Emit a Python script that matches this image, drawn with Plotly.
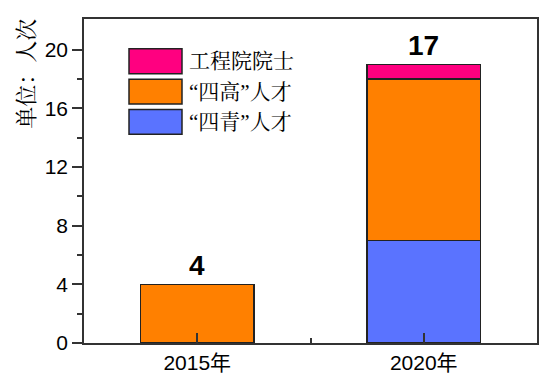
import plotly.graph_objects as go

categories = ["2015年", "2020年"]
qingnian = [0, 7]      # “四青”人才
gaoceng = [4, 11]      # “四高”人才
yuanshi = [0, 1]       # 工程院院士
totals = ["4", "17"]
series_names = ["工程院院士", "“四高”人才", "“四青”人才"]
colors = ["#FF0080", "#FF8000", "#5A73FF"]

xpos = list(range(len(categories)))
line = dict(color="#222222", width=1.5)

# page body has an 8px margin: figure spans 8..557 x 8..383
W, H = 549, 375
L, T, PW, PH = 76, 9, 453, 326
R, B = W - L - PW, H - T - PH

def px(x):  # page x -> paper
    return (x - 8 - L) / PW

def py(y):  # page y -> paper
    return 1 - (y - 8 - T) / PH

fig = go.Figure()
fig.add_trace(go.Bar(x=xpos, y=qingnian, name=series_names[2], marker=dict(color=colors[2], line=line), width=0.5))
fig.add_trace(go.Bar(x=xpos, y=gaoceng, name=series_names[1], marker=dict(color=colors[1], line=line), width=0.5))
fig.add_trace(go.Bar(x=[1], y=[yuanshi[1]], base=[qingnian[1] + gaoceng[1]], name=series_names[0],
                     marker=dict(color=colors[0], line=line), width=0.5))

stack_tops = [q + g + y for q, g, y in zip(qingnian, gaoceng, yuanshi)]
for xi, top, lab in zip(xpos, stack_tops, totals):
    fig.add_annotation(x=xi, y=top, text=f"<b>{lab}</b>", showarrow=False, yanchor="bottom", yshift=1,
                       font=dict(family="Liberation Sans, Arial", size=28, color="black"))

cjk_font = "Liberation Serif, Noto Serif CJK SC, Noto Sans CJK SC"
leg_top = 47
for i, (nm, c) in enumerate(zip(series_names, colors)):
    y0 = leg_top + i * 30.5
    fig.add_shape(type="rect", xref="paper", yref="paper",
                  x0=px(129), x1=px(182), y0=py(y0), y1=py(y0 + 25),
                  fillcolor=c, line=dict(color="#222222", width=1.5))
    fig.add_annotation(xref="paper", yref="paper", x=px(187), y=py(y0 + 12.5),
                       text=nm, showarrow=False, xanchor="left", yanchor="middle",
                       font=dict(family=cjk_font, size=21, color="black"))

fig.add_annotation(xref="paper", yref="paper", x=px(27), y=py(72),
                   text="单位：人次", textangle=-90, showarrow=False, xanchor="center", yanchor="middle",
                   font=dict(family=cjk_font, size=22, color="black"))

fig.update_layout(
    width=W, height=H,
    margin=dict(l=L, r=R, t=T, b=B, pad=0),
    barmode="stack", showlegend=False,
    plot_bgcolor="white", paper_bgcolor="white",
    font=dict(family="Liberation Sans, Arial, Noto Sans CJK SC", size=21, color="black"),
    xaxis=dict(range=[-0.5, 1.5], tickvals=xpos, ticktext=categories, ticks="inside", ticklen=10,
               tickwidth=1.5, tickcolor="#333333", showline=True, linecolor="#333333", linewidth=1.5,
               mirror=True, showgrid=False, zeroline=False,
               minor=dict(tickvals=[0.5], ticks="inside", ticklen=5, tickwidth=1.5, tickcolor="#333333"),
               tickfont=dict(size=21)),
    yaxis=dict(range=[0, 22.1], tickvals=[0, 4, 8, 12, 16, 20], ticks="outside", ticklen=10,
               tickwidth=1.5, tickcolor="#333333", showline=True, linecolor="#333333", linewidth=1.5,
               mirror=True, showgrid=False, zeroline=False,
               minor=dict(tickvals=[2, 6, 10, 14, 18], ticks="outside", ticklen=5, tickwidth=1.5,
                          tickcolor="#333333"),
               tickfont=dict(size=21)),
)

fig.write_html("out.html")
